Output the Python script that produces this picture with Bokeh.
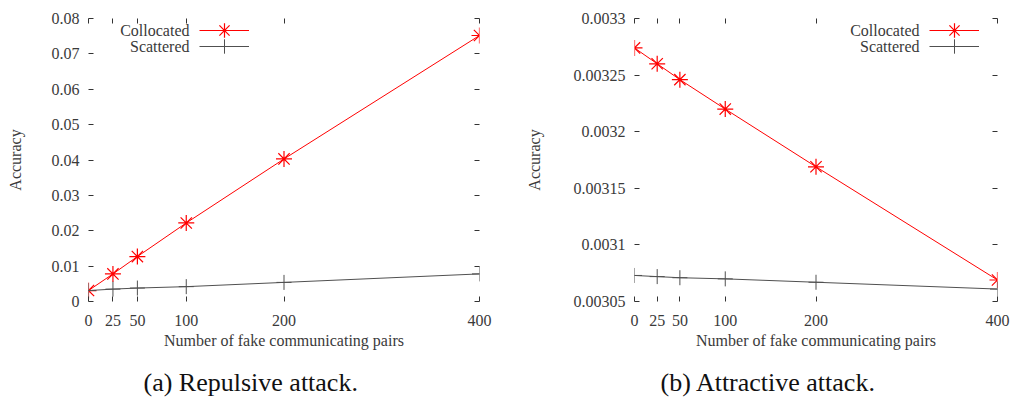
from bokeh.plotting import figure
from bokeh.models import (LinearAxis, FixedTicker, Legend, LegendItem, Title, Range1d,
                          CustomLabelingPolicy, Label)
from bokeh.layouts import row
from bokeh.embed import file_html
from bokeh.resources import INLINE

# ---- data ----
pairs = [0, 25, 50, 100, 200, 400]

rep_collocated = [0.0031, 0.0078, 0.0127, 0.0222, 0.0403, 0.0752]
rep_scattered = [0.0031, 0.0035, 0.0038, 0.0042, 0.0054, 0.0078]

att_collocated = [0.003274, 0.003260, 0.003246, 0.003220, 0.003169, 0.003069]
att_scattered = [0.003073, 0.003072, 0.003071, 0.003070, 0.003067, 0.003061]

x_ticks = [0, 25, 50, 100, 200, 400]
x_labels = ["0", "25", "50", "100", "200", "400"]

rep_y_ticks = [0, 0.01, 0.02, 0.03, 0.04, 0.05, 0.06, 0.07, 0.08]
rep_y_labels = ["0", "0.01", "0.02", "0.03", "0.04", "0.05", "0.06", "0.07", "0.08"]

att_y_ticks = [0.00305, 0.0031, 0.00315, 0.0032, 0.00325, 0.0033]
att_y_labels = ["0.00305", "0.0031", "0.00315", "0.0032", "0.00325", "0.0033"]

series_names = ["Collocated", "Scattered"]

FONT = "Liberation Serif"
FS = "16px"
TXT = "#3a3a3a"
RED = "#ff0000"
GRAY = "#505050"
FH = 283

HIDE_ALL = CustomLabelingPolicy(code="""
    for (const i of Array.from(indices)) { indices.unset(i) }
    return indices
""")


def make_panel(col, sct, yticks, ylabels, yrange, caption, fw, bl, br, ylab_standoff,
               leg_x, cap_offset):
    p = figure(frame_width=fw, frame_height=FH, output_backend="svg", toolbar_location=None,
               x_range=Range1d(0, 400), y_range=Range1d(*yrange),
               min_border_left=bl, min_border_right=br, min_border_top=18,
               min_border_bottom=0)
    p.xaxis.visible = False
    p.yaxis.visible = False
    p.xgrid.visible = False
    p.ygrid.visible = False
    p.outline_line_color = None
    p.background_fill_color = "white"
    p.border_fill_color = "white"

    xt = FixedTicker(ticks=x_ticks, minor_ticks=[])
    yt = FixedTicker(ticks=yticks, minor_ticks=[])

    def style(ax, show_labels):
        ax.axis_line_color = None
        ax.major_tick_in = 5
        ax.major_tick_out = 0
        ax.minor_tick_in = 0
        ax.minor_tick_out = 0
        ax.major_tick_line_color = "#333333"
        ax.major_label_text_font = FONT
        ax.major_label_text_font_size = FS if show_labels else "1px"
        ax.major_label_text_color = TXT
        ax.axis_label_text_font = FONT
        ax.axis_label_text_font_size = FS
        ax.axis_label_text_font_style = "normal"
        ax.axis_label_text_color = TXT
        if not show_labels:
            ax.major_label_standoff = 0
            ax.major_label_policy = HIDE_ALL

    xb = LinearAxis(ticker=xt, axis_label="Number of fake communicating pairs",
                    major_label_overrides=dict(zip(x_ticks, x_labels)))
    style(xb, True)
    xb.major_label_standoff = 13
    xb.axis_label_standoff = 3
    p.add_layout(xb, "below")

    xa = LinearAxis(ticker=xt)
    style(xa, False)
    p.add_layout(xa, "above")

    yl = LinearAxis(ticker=yt, axis_label="Accuracy",
                    major_label_overrides=dict(zip(yticks, ylabels)))
    style(yl, True)
    yl.major_label_standoff = 9
    yl.axis_label_standoff = ylab_standoff
    p.add_layout(yl, "left")

    yr = LinearAxis(ticker=yt)
    style(yr, False)
    p.add_layout(yr, "right")

    l1 = p.line(pairs, col, line_color=RED, line_width=1)
    m1 = p.scatter(pairs, col, marker="asterisk", size=16, line_color=RED, line_width=1.2)
    l2 = p.line(pairs, sct, line_color=GRAY, line_width=1)
    m2 = p.scatter(pairs, sct, marker="cross", size=15, line_color=GRAY, line_width=1)

    # gnuplot-style key: sample on the right, text right-aligned to its left
    for i, (name, rs) in enumerate(zip(series_names, [[l1, m1], [l2, m2]])):
        yc = FH - 12 - 16 * i
        leg = Legend(items=[LegendItem(label="\u00a0", renderers=rs)],
                     location=(leg_x, yc - 18), orientation="vertical",
                     background_fill_alpha=0, border_line_color=None,
                     label_text_font=FONT, label_text_font_size=FS,
                     label_text_color=TXT,
                     glyph_width=50, glyph_height=36, label_height=36,
                     spacing=0, padding=0, margin=0,
                     label_standoff=0, label_width=1)
        p.add_layout(leg)
        p.add_layout(Label(x=leg_x - 10, y=yc, x_units="screen", y_units="screen",
                           text=name, text_align="right", text_baseline="middle",
                           text_font=FONT, text_font_size=FS, text_color=TXT))

    cap = Title(text=caption, align="left", offset=cap_offset, text_font=FONT,
                text_font_size="26px", text_font_style="normal", text_color="#111111",
                standoff=28)
    p.add_layout(cap, "below")
    return p


p1 = make_panel(rep_collocated, rep_scattered, rep_y_ticks, rep_y_labels, (0, 0.08),
                "(a)  Repulsive attack.", 391, 88, 29, 25, 111, 55)
p2 = make_panel(att_collocated, att_scattered, att_y_ticks, att_y_labels, (0.00305, 0.0033),
                "(b)  Attractive attack.", 363, 126, 14, 28, 295, 26)

layout = row(p1, p2, spacing=0)
open("out.html", "w").write(file_html(layout, INLINE))
